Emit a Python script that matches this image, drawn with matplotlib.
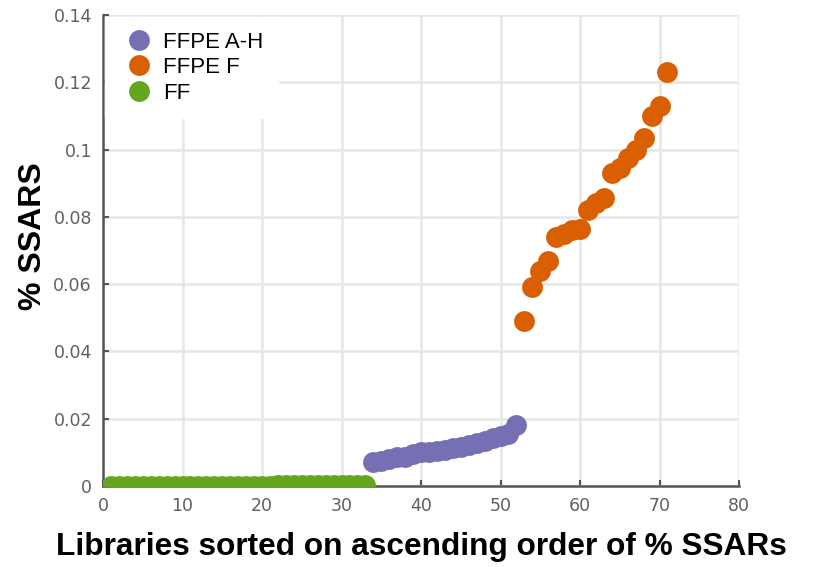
import matplotlib
matplotlib.use("Agg")
import matplotlib.pyplot as plt
import numpy as np

# Libraries ranked by % SSARs, split by sample type
ff_rank = list(range(1, 34))
ff_ssars = [0.0] * 21 + [0.0003] * 12

ffpe_ah_rank = list(range(34, 53))
ffpe_ah_ssars = [0.0070, 0.0073, 0.0080, 0.0085, 0.0086, 0.0095, 0.0100,
                 0.0102, 0.0105, 0.0108, 0.0112, 0.0117, 0.0122, 0.0128,
                 0.0135, 0.0142, 0.0148, 0.0155, 0.0180]

ffpe_f_rank = list(range(53, 72))
ffpe_f_ssars = [0.049, 0.059, 0.064, 0.067, 0.074, 0.075, 0.076, 0.0765,
                0.082, 0.084, 0.0855, 0.093, 0.0945, 0.0975, 0.100, 0.1035,
                0.110, 0.113, 0.123]

series_labels = ["FFPE A-H", "FFPE F", "FF"]
series_colors = ["#7570b3", "#d95f02", "#66a61e"]

x_ticks = [0, 10, 20, 30, 40, 50, 60, 70, 80]
y_ticks = [0, 0.02, 0.04, 0.06, 0.08, 0.1, 0.12, 0.14]
y_tick_labels = ["0", "0.02", "0.04", "0.06", "0.08", "0.1", "0.12", "0.14"]

fig = plt.figure(figsize=(8.15, 5.67), dpi=100)
ax = fig.add_axes([0.1264, 0.1429, 0.7804, 0.8307])

ms = 15
ax.plot(ffpe_ah_rank, ffpe_ah_ssars, "o", ms=ms, color=series_colors[0],
        mec="none", label=series_labels[0], zorder=3)
ax.plot(ffpe_f_rank, ffpe_f_ssars, "o", ms=ms, color=series_colors[1],
        mec="none", label=series_labels[1], zorder=3)
ax.plot(ff_rank, ff_ssars, "o", ms=ms, color=series_colors[2],
        mec="none", label=series_labels[2], zorder=3)

ax.set_xlim(0, 80)
ax.set_ylim(0, 0.14)
ax.set_xticks(x_ticks)
ax.set_yticks(y_ticks)
ax.set_yticklabels(y_tick_labels)

ax.grid(True, color="#e6e6e6", linewidth=1.8, zorder=0)
ax.set_axisbelow(True)
for side in ("top", "right"):
    ax.spines[side].set_visible(False)
for side in ("left", "bottom"):
    ax.spines[side].set_color("#555555")
    ax.spines[side].set_linewidth(1.8)
ax.tick_params(direction="in", length=4, width=1.5, color="#555555",
               labelcolor="#606060", labelsize=12.5, pad=8)

ax.set_xlabel("Libraries sorted on ascending order of % SSARs",
              fontfamily="Liberation Sans", fontweight="bold", fontsize=22.8,
              labelpad=12)
ax.set_ylabel("% SSARS", fontfamily="Liberation Sans", fontweight="bold",
              fontsize=23)
ax.yaxis.set_label_coords(-0.0865, 0.53)

leg = ax.legend(loc="upper left", frameon=True, fancybox=False,
                prop={"family": "Liberation Sans", "size": 16},
                handletextpad=0.2, labelspacing=0.2, borderpad=0.65,
                handlelength=1.75, markerscale=1.0, borderaxespad=0.1)
leg.get_frame().set_edgecolor("white")
leg.get_frame().set_facecolor("white")
leg.get_frame().set_alpha(1.0)

fig.savefig("out.png", dpi=100, facecolor="white")
